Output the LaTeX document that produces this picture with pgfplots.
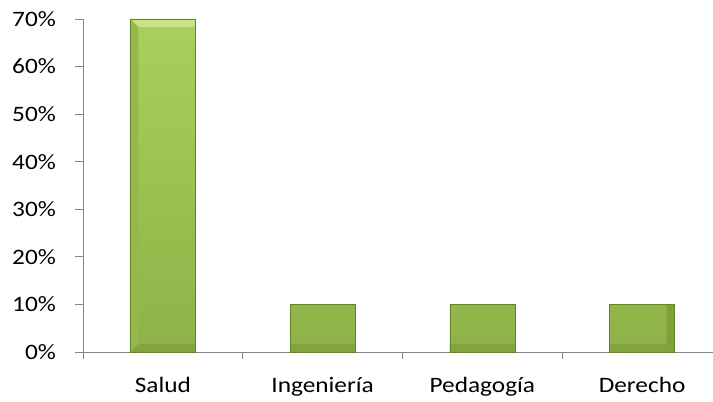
\documentclass[border=0pt]{standalone}
\usepackage{pgfplots}
\pgfplotsset{compat=1.18}
\usepackage{fontspec}
\setmainfont{Carlito}
\usepackage{graphicx}
\definecolor{axgray}{HTML}{868686}
\definecolor{faceT}{HTML}{A9D05C}
\definecolor{faceB}{HTML}{8EB247}
\definecolor{bevT}{HTML}{C6E485}
\definecolor{bevL}{HTML}{94B94B}
\definecolor{bevR}{HTML}{7E9F3A}
\definecolor{bevB}{HTML}{82A33F}
\definecolor{edge}{HTML}{64842B}
\newcommand{\sx}[1]{\scalebox{1.15}[1]{#1}}
\tikzset{bev/.style={draw=none, shade=false, path picture={}}}
\begin{document}
\begin{tikzpicture}
\def\bd{8pt}
\begin{axis}[name=ax, scale only axis, width=630pt, height=333pt,
  xmin=-0.5, xmax=3.444, ymin=0, ymax=70,
  axis lines=left, axis line style={-, draw=axgray, line width=0.8pt},
  tick style={draw=axgray, line width=0.8pt},
  tick align=outside, major tick length=7.5pt,
  xtick={-0.5,0.5,1.5,2.5,3.5}, xticklabels={},
  extra x ticks={0,1,2,3},
  extra x tick labels={\sx{Salud},\sx{Ingeniería},\sx{Pedagogía},\sx{Derecho}},
  extra x tick style={major tick length=0pt, xticklabel style={yshift=-22pt}},
  ytick={0,10,...,70}, yticklabel={\sx{\pgfmathprintnumber{\tick}\%}},
  /pgf/number format/assume math mode=true,
  yticklabel style={xshift=-16pt},
  ticklabel style={font=\fontsize{22}{26}\selectfont, text=black},
  ybar, bar width=65pt, clip=false,
]
\addplot[draw=edge, line width=0.6pt, top color=faceT, bottom color=faceB,
  path picture={
    \fill[bev, bevT] (path picture bounding box.north west) -- (path picture bounding box.north east)
      -- ([shift={(-\bd,-\bd)}]path picture bounding box.north east)
      -- ([shift={(\bd,-\bd)}]path picture bounding box.north west) -- cycle;
    \fill[bev, bevL] (path picture bounding box.north west) -- ([shift={(\bd,-\bd)}]path picture bounding box.north west)
      -- ([shift={(\bd,\bd)}]path picture bounding box.south west) -- (path picture bounding box.south west) -- cycle;
    \fill[bev, bevR] (path picture bounding box.north east) -- ([shift={(-\bd,-\bd)}]path picture bounding box.north east)
      -- ([shift={(-\bd,\bd)}]path picture bounding box.south east) -- (path picture bounding box.south east) -- cycle;
    \fill[bev, bevB] (path picture bounding box.south west) -- ([shift={(\bd,\bd)}]path picture bounding box.south west)
      -- ([shift={(-\bd,\bd)}]path picture bounding box.south east) -- (path picture bounding box.south east) -- cycle;
  }] coordinates {(0,70) (1,10) (2,10) (3,10)};
\end{axis}
\pgfresetboundingbox
\path[use as bounding box] ([shift={(-83pt,-50pt)}]ax.south west) rectangle ([shift={(0pt,19pt)}]ax.north east);
\end{tikzpicture}
\end{document}
